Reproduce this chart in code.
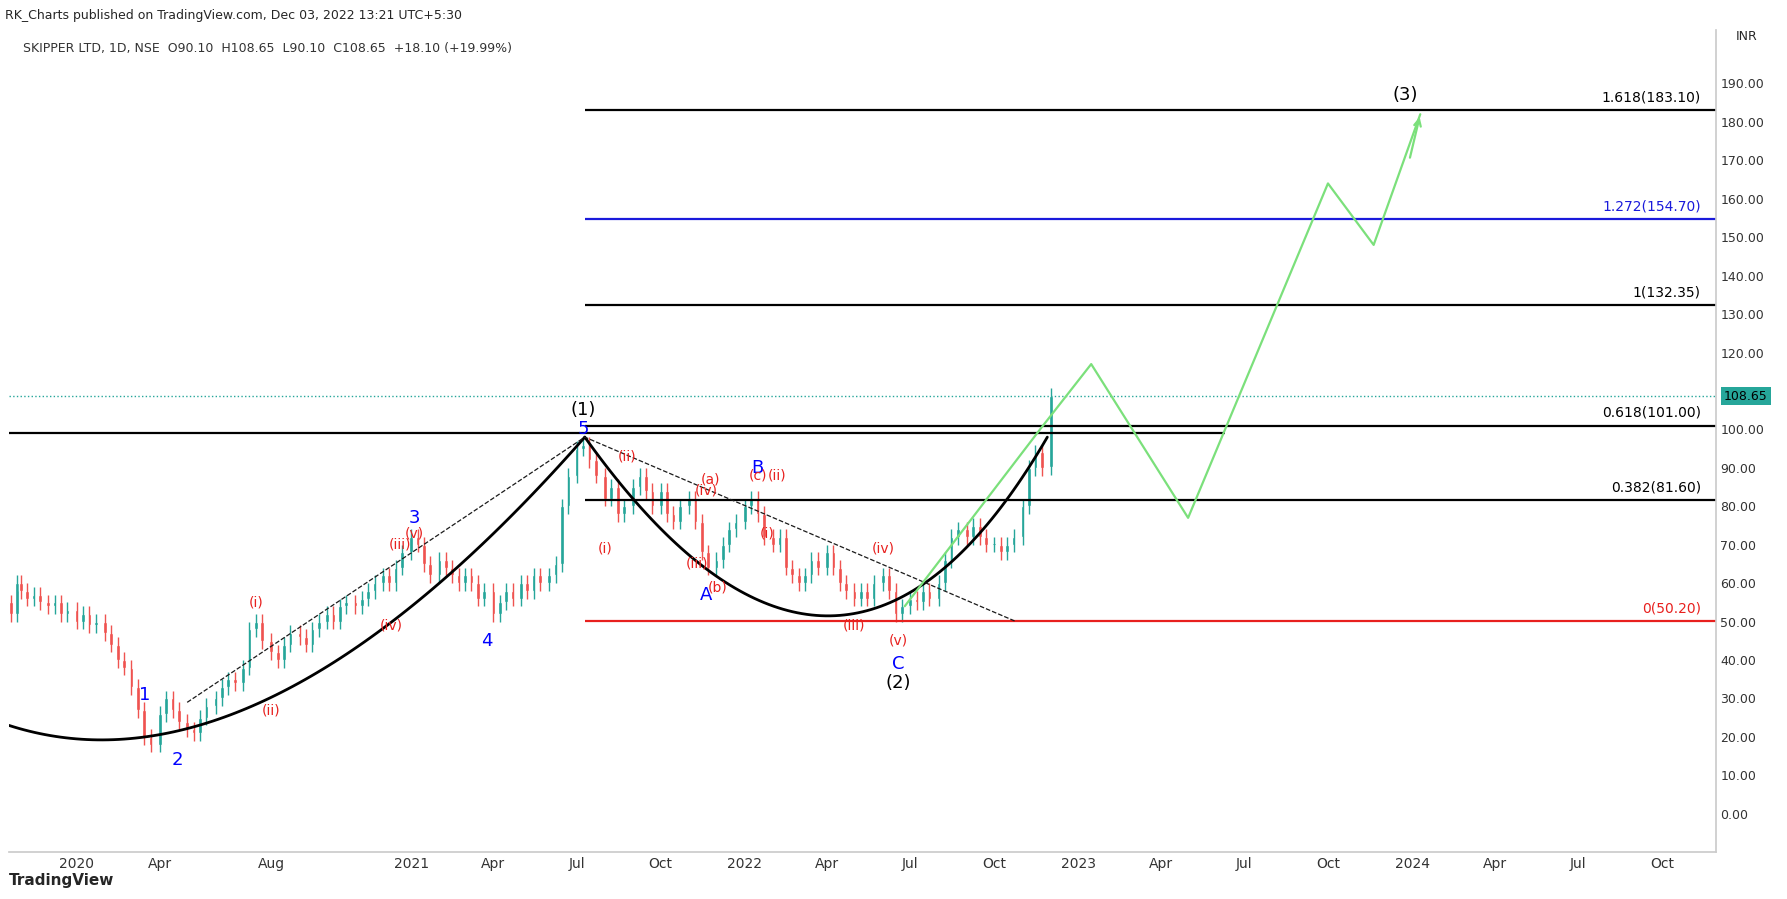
import numpy as np, pandas as pd, matplotlib
matplotlib.use("Agg")
import matplotlib.pyplot as plt, matplotlib.dates as mdates, seaborn as sns

months = pd.date_range("2019-11-01", "2022-11-01", freq="MS")
early_dates = ["2019-10-21", "2019-10-28"]
early_closes = [52, 60]
weekly_closes = [58,56,57,55, 54,55,52,53, 50,52,49,50, 47,44,40,38, 33,27,20,18, 26,30,27,24,
 22,21,25,28, 30,33,35,34, 38,48,50,45, 42,40,44,47, 46,44,48,50, 52,50,54,55, 54,56,58,60,
 62,60,64,68, 72,70,65,62, 66,64,62,60, 62,60,56,58, 52,55,58,56, 60,58,62,60, 62,65,80,88,
 95,96,92,88, 82,85,78,80, 85,88,84,80, 84,78,76,80, 82,76,68,64, 66,70,74,76, 80,82,78,72,
 70,72,64,62, 60,62,66,64, 68,64,60,58, 56,58,56,60, 62,58,52,54, 56,55,58,56, 60,66,72,74,
 72,75,72,70, 70,68,70,72, 80,90,94,90]
last_open, last_close = 90.10, 108.65
fib_levels = [183.10, 154.70, 132.35, 101.00, 81.60, 50.20]
fib_names = ["1.618", "1.272", "1", "0.618", "0.382", "0"]
fib_colors = ["black", "#1a1adb", "black", "black", "black", "#e8201e"]
proj_dates = ["2022-06-25", "2022-11-20", "2023-01-15", "2023-05-01", "2023-10-01", "2023-11-20", "2024-01-10"]
proj_vals = [54, 100, 117, 77, 164, 148, 182]
yticks = list(range(0, 200, 10))

dates = [pd.Timestamp(s) for s in early_dates] + [m + pd.Timedelta(days=d) for m in months for d in (0, 7, 14, 21)]
dates.append(pd.Timestamp("2022-12-02"))
closes = early_closes + weekly_closes + [last_close]
opens = [closes[0] + 3] + closes[:-1]
opens[-1] = last_open

sns.set_theme(style="white")
fig = plt.figure(figsize=(17.87, 8.99), dpi=100)
ax = fig.add_axes([0.005, 0.052, 0.955, 0.915])
x = mdates.date2num(dates)
for xi, o, c in zip(x, opens, closes):
    col = "#26a69a" if c >= o else "#ef5350"
    ax.vlines(xi, min(o, c) - 2, max(o, c) + 2, color=col, lw=1)
    ax.bar(xi, max(abs(c - o), 0.4), bottom=min(o, c), width=4, color=col)

d = lambda s: mdates.date2num(pd.Timestamp(s))
xmin, xmax = d("2019-10-19"), d("2024-11-28")
top = d("2021-07-10")
for lv, nm, cl in zip(fib_levels, fib_names, fib_colors):
    ax.hlines(lv, top, xmax, color=cl, lw=1.6)
    ax.text(d("2024-11-12"), lv + 1.5, f"{nm}({lv:.2f})", color=cl, ha="right", va="bottom", fontsize=10)
ax.hlines(99, xmin, d("2023-06-10"), color="black", lw=1.6)
ax.axhline(108.65, color="#26a69a", ls=":", lw=1)

def bez(p0, p1, p2):
    t = np.linspace(0, 1, 100)[:, None]
    p = (1-t)**2*np.array(p0) + 2*(1-t)*t*np.array(p1) + t**2*np.array(p2)
    ax.plot(p[:, 0], p[:, 1], color="black", lw=2)
bez((xmin, 23), (d("2020-07-20"), 2), (top, 98))
bez((top, 98), (d("2022-04-15"), 5), (d("2022-11-28"), 98))
ax.plot([d("2020-05-01"), top, d("2022-10-25")], [29, 98, 50], "k--", lw=0.9)

pdf = pd.DataFrame({"date": mdates.date2num(pd.to_datetime(proj_dates)), "val": proj_vals})
sns.lineplot(data=pdf, x="date", y="val", ax=ax, color="#7be07b", lw=1.6, sort=False)
ax.annotate("", xy=(pdf.date.iloc[-1], proj_vals[-1]), xytext=(pdf.date.iloc[-1]-12, proj_vals[-1]-12),
            arrowprops=dict(arrowstyle="->", color="#7be07b", lw=1.6))

labels = [("1","2020-03-15",31,"blue"),("2","2020-04-20",14,"blue"),("3","2021-01-05",77,"blue"),
 ("4","2021-03-25",45,"blue"),("5","2021-07-08",100,"blue"),("(1)","2021-07-08",105,"black"),
 ("A","2021-11-20",57,"blue"),("B","2022-01-15",90,"blue"),("C","2022-06-18",39,"blue"),
 ("(2)","2022-06-18",34,"black"),("(3)","2023-12-25",187,"black"),
 ("(i)","2020-07-15",55,"#e8201e"),("(ii)","2020-08-01",27,"#e8201e"),("(iii)","2020-12-20",70,"#e8201e"),
 ("(iv)","2020-12-10",49,"#e8201e"),("(v)","2021-01-05",73,"#e8201e"),("(i)","2021-08-01",69,"#e8201e"),
 ("(ii)","2021-08-25",93,"#e8201e"),("(iii)","2021-11-10",65,"#e8201e"),("(iv)","2021-11-20",84,"#e8201e"),
 ("(a)","2021-11-25",87,"#e8201e"),("(b)","2021-12-02",59,"#e8201e"),("(c)","2022-01-15",88,"#e8201e"),
 ("(ii)","2022-02-05",88,"#e8201e"),("(i)","2022-01-25",73,"#e8201e"),("(iii)","2022-05-01",49,"#e8201e"),
 ("(iv)","2022-06-01",69,"#e8201e"),("(v)","2022-06-18",45,"#e8201e")]
for t, ds, yv, cl in labels:
    ax.text(d(ds), yv, t, color=cl, ha="center", va="center",
            fontsize=13 if cl != "#e8201e" else 10)

ax.set_xlim(xmin, xmax); ax.set_ylim(-10, 204)
ax.yaxis.tick_right(); ax.set_yticks(yticks)
ax.set_yticklabels([f"{v:.2f}" if v != 110 else "" for v in yticks], fontsize=9, color="#333")
ticks = ["2020-01-01","2020-04-01","2020-08-01","2021-01-01","2021-04-01","2021-07-01","2021-10-01",
 "2022-01-01","2022-04-01","2022-07-01","2022-10-01","2023-01-01","2023-04-01","2023-07-01","2023-10-01",
 "2024-01-01","2024-04-01","2024-07-01","2024-10-01"]
ax.set_xticks([d(t) for t in ticks])
ax.set_xticklabels([str(pd.Timestamp(t).year) if pd.Timestamp(t).month == 1 else pd.Timestamp(t).strftime("%b") for t in ticks], fontsize=10, color="#333")
ax.tick_params(length=0)
for s in ["top", "left"]: ax.spines[s].set_visible(False)
ax.spines["right"].set_color("#ccc"); ax.spines["bottom"].set_color("#ccc")
ax.set_xlabel(""); ax.set_ylabel("")
ax.text(1.005, 108.65, "108.65", transform=ax.get_yaxis_transform(), fontsize=9, color="black",
        va="center", bbox=dict(facecolor="#26a69a", edgecolor="none", pad=2))
ax.text(1.012, 1.0, "INR", transform=ax.transAxes, fontsize=9, va="top")
ax.text(0.008, 0.985, "SKIPPER LTD, 1D, NSE  O90.10  H108.65  L90.10  C108.65  +18.10 (+19.99%)",
        transform=ax.transAxes, fontsize=9, va="top", color="#333")
fig.text(0.003, 0.99, "RK_Charts published on TradingView.com, Dec 03, 2022 13:21 UTC+5:30", fontsize=9, va="top")
fig.text(0.005, 0.012, "TradingView", fontsize=11, weight="bold", va="bottom")
fig.savefig("out.png", dpi=100)
